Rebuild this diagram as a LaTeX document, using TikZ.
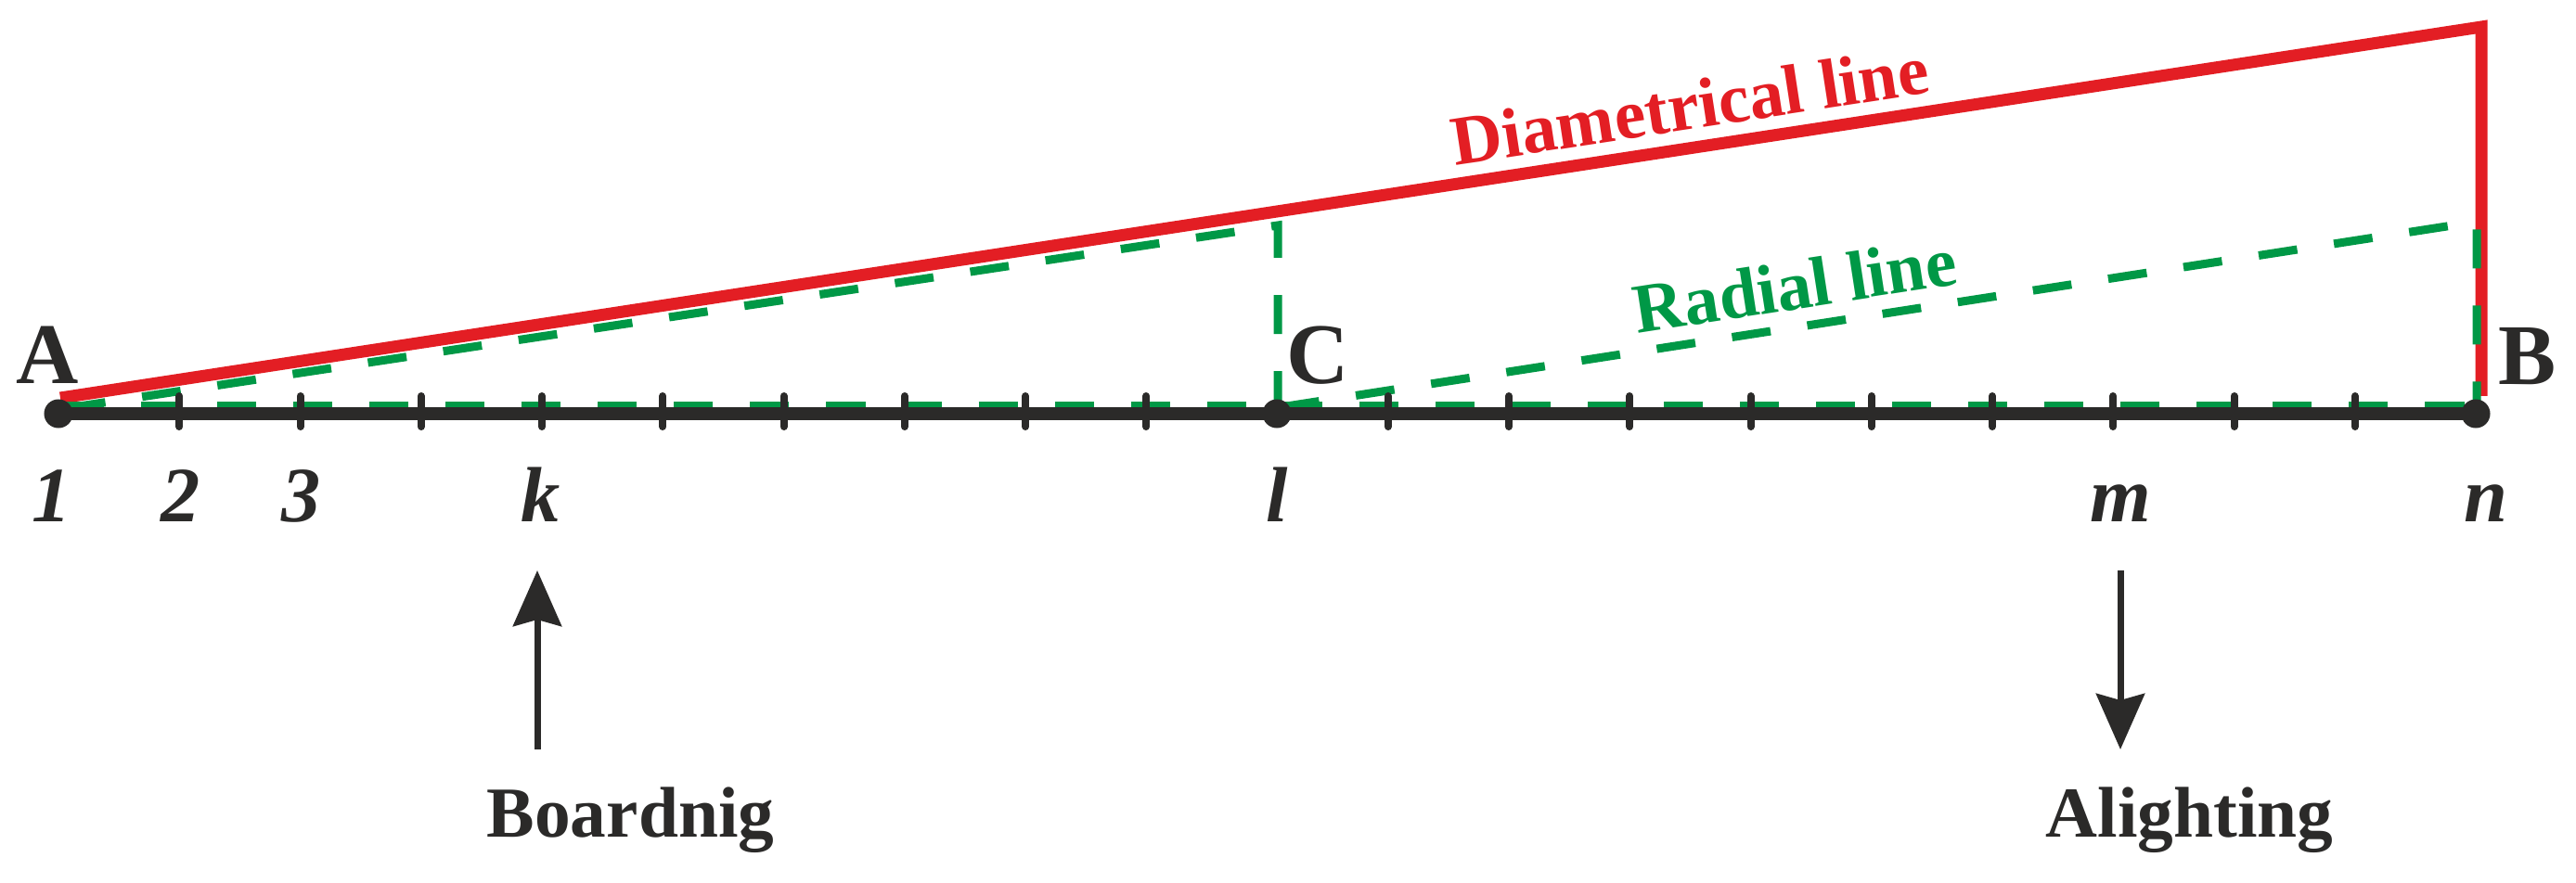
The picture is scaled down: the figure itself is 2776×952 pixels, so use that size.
\documentclass[tikz,border=0pt]{standalone}
\usepackage{fontspec}
\setmainfont{Liberation Serif}
\usetikzlibrary{arrows.meta,calc}
\definecolor{redL}{HTML}{E31E24}
\definecolor{greenL}{HTML}{009846}
\definecolor{inkL}{HTML}{2B2A29}
\tikzset{
  redline/.style={draw=redL, line width=0.13cm, line join=miter},
  greenline/.style={draw=greenL, line width=0.09cm, dash pattern=on 0.42cm off 0.4cm},
  axisline/.style={draw=inkL, line width=0.13cm},
  tickmark/.style={draw=inkL, line width=0.08cm, line cap=round},
  dotnode/.style={circle, fill=inkL, inner sep=0pt, minimum size=0.31cm},
  ptlabel/.style={text=inkL, font=\fontsize{26.5pt}{30pt}\selectfont\bfseries, anchor=base, inner sep=0pt},
  axlabel/.style={text=inkL, font=\fontsize{24pt}{28pt}\selectfont\bfseries\itshape, anchor=base, inner sep=0pt},
  linelabel/.style={font=\fontsize{21.5pt}{25pt}\selectfont\bfseries, anchor=base, inner sep=0pt},
  flowlabel/.style={text=inkL, font=\fontsize{22pt}{26pt}\selectfont\bfseries, anchor=base west, inner sep=0pt},
  flowarrow/.style={draw=inkL, line width=0.07cm, -{Stealth[length=0.6cm, width=0.52cm, inset=0.07cm]}},
}
\begin{document}
\begin{tikzpicture}[x=0.01cm, y=-0.01cm]
\useasboundingbox (0,0) rectangle (2776,952);
% main points
\coordinate (pA) at (63,446);
\coordinate (pC) at (1376,446);
\coordinate (pB) at (2668,446);
% diametrical line
\coordinate (r0) at (65,429);
\coordinate (rT) at (2674,29);
\coordinate (rB) at (2674,427);
\draw[redline] (r0) -- (rT) -- (rB);
% radial lines
\coordinate (gh0) at (70,438);
\coordinate (gh1) at (2669,438);
\draw[greenline] (gh0) -- (gh1);
\coordinate (ga0) at (72,440);
\coordinate (gaT) at (1377,243);
\coordinate (gaB) at (1377,440);
\draw[greenline] (ga0) -- (gaT) -- (gaB);
\coordinate (gb0) at (1380,439);
\coordinate (gbT) at (2669,239);
\coordinate (gbB) at (2669,438);
\draw[greenline] (gb0) -- (gbT) -- (gbB);
% axis
\draw[axisline] (pA) -- (pB);
\foreach \i in {1,...,9,11,12,...,19} {
  \coordinate (t\i) at ({63+130.25*\i},446);
  \draw[tickmark] ($(t\i)+(0,-19)$) -- ($(t\i)+(0,14)$);
}
\node[dotnode] (A) at (pA) {};
\node[dotnode] (C) at (pC) {};
\node[dotnode] (B) at (pB) {};
% point labels
\node[ptlabel] (lA) at (51,414) {A};
\node[ptlabel] (lB) at (2724,415) {B};
\node[ptlabel] (lC) at (1420,414) {C};
% axis labels
\node[axlabel] (n1) at (56,562) {1};
\node[axlabel] (n2) at (195,562) {2};
\node[axlabel] (n3) at (325,562) {3};
\node[axlabel] (nk) at (583,562) {k};
\node[axlabel] (nl) at (1376,562) {l};
\node[axlabel] (nm) at (2285,562) {m};
\node[axlabel] (nn) at (2679,562) {n};
% line labels
\node[linelabel, text=redL, rotate=8.72] (dl) at (1825,139) {Diametrical line};
\node[linelabel, text=greenL, rotate=8.8] (rl) at (1938,333) {Radial line};
% flows
\coordinate (up0) at (579,808);
\coordinate (up1) at (579,615);
\draw[flowarrow] (up0) -- (up1);
\coordinate (dn0) at (2285,615);
\coordinate (dn1) at (2285,808);
\draw[flowarrow] (dn0) -- (dn1);
\node[flowlabel] (board) at (524,902) {Boardnig};
\node[flowlabel] (alight) at (2204,902) {Alighting};
\end{tikzpicture}
\end{document}
